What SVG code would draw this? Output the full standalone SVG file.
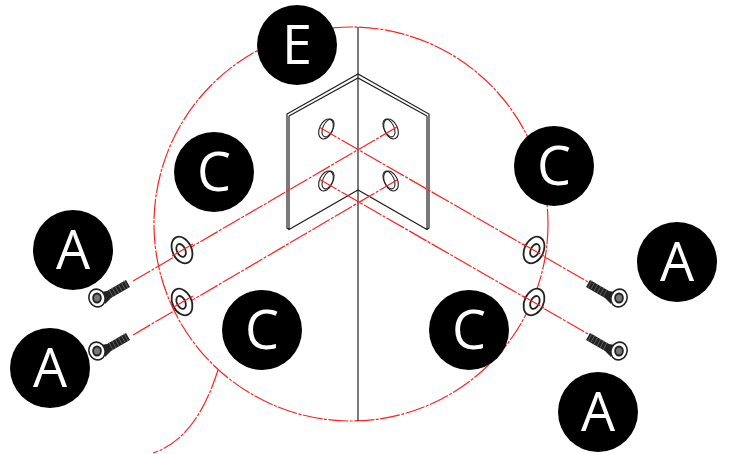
<svg xmlns="http://www.w3.org/2000/svg" width="730" height="454" viewBox="0 0 730 454">
<style>
.bg{fill:#fff}
.red{fill:none;stroke:#f22;stroke-width:1.2;stroke-dasharray:20 1.5 3 1.5}
.k{fill:none;stroke:#222;stroke-width:1.2}
.badge circle{fill:#000}
.badge text{fill:#fff;font-family:"Open Sans",sans-serif;font-size:54px;text-anchor:middle}
</style>
<defs>
<g id="slot"><ellipse rx="6.5" ry="10.5" transform="rotate(25)" fill="#fff" stroke="#222" stroke-width="1.1"/><ellipse cx="2" cy="-1" rx="5" ry="9.5" transform="rotate(25 2 -1)" fill="none" stroke="#222" stroke-width="1.1"/></g>
<g id="washer"><ellipse rx="9.5" ry="14" transform="rotate(-25)" fill="#fff" stroke="#222" stroke-width="1.8"/><ellipse cx="-1" cy="0" rx="4.2" ry="6.8" transform="rotate(-25)" fill="none" stroke="#222" stroke-width="1.8"/></g>
<g id="screw"><path d="M4,-6 L10,-7 L29,-18 L33,-11 L14,0 L8,6Z" fill="#222"/><path d="M12,-8.5L16,-1M15,-10.5L19,-3M18,-12L22,-5M21,-14L25,-7M24,-16L28,-9M27,-17.5L31,-10" stroke="#777" stroke-width=".7"/><ellipse rx="8" ry="9" transform="rotate(-25)" fill="#fff" stroke="#222" stroke-width="1.6"/><ellipse rx="4.8" ry="5.6" fill="#222"/><ellipse rx="3" ry="3.6" fill="#777"/></g>
</defs>
<rect class="bg" width="730" height="454"/>
<g id="connectors">
<circle class="red" cx="351" cy="224" r="197"/>
<path class="red" d="M218,370C209,398 192,440 153,453"/>
<path d="M358,27V421" fill="none" stroke="#222" stroke-width="1.2"/>
</g>
<g id="bracket">
<path class="k" d="M287,114L358,74L429,114V228L427,229.5L358,190L289,229.5L287,228ZM289,116L358,78L427,116M289,116V229.5M427,116V229.5"/>
<use href="#slot" x="326" y="129"/><use href="#slot" transform="translate(391,129) scale(-1,1)"/><use href="#slot" x="326" y="181"/><use href="#slot" transform="translate(391,181) scale(-1,1)"/>
</g>
<g id="axes">
<path class="red" d="M133,281L397,127M133,335L397,180M319,127L590,283M319,179L590,335"/>
</g>
<g id="washers"><use href="#washer" x="182" y="250"/><use href="#washer" x="182" y="302"/><use href="#washer" transform="translate(534,250) scale(-1,1)"/><use href="#washer" transform="translate(534,302) scale(-1,1)"/></g>
<g id="axes-over"><path class="red" d="M172,256L193,244M172,308L193,296M523,244L544,256M523,296L544,308"/></g>
<g id="screws"><use href="#screw" x="97" y="298"/><use href="#screw" x="97" y="351"/><use href="#screw" transform="translate(619,298) scale(-1,1)"/><use href="#screw" transform="translate(619,351) scale(-1,1)"/></g>
<g id="E" class="badge"><circle cx="297" cy="45" r="40"/><text x="297" y="64">E</text></g>
<g id="C1" class="badge"><circle cx="214" cy="172" r="40"/><text x="214" y="191">C</text></g>
<g id="C2" class="badge"><circle cx="554" cy="166" r="40"/><text x="554" y="185">C</text></g>
<g id="C3" class="badge"><circle cx="262" cy="330" r="40"/><text x="262" y="349">C</text></g>
<g id="C4" class="badge"><circle cx="469" cy="330" r="40"/><text x="469" y="349">C</text></g>
<g id="A1" class="badge"><circle cx="73" cy="250" r="40"/><text x="73" y="269">A</text></g>
<g id="A2" class="badge"><circle cx="50" cy="368" r="40"/><text x="50" y="387">A</text></g>
<g id="A3" class="badge"><circle cx="677" cy="262" r="40"/><text x="677" y="281">A</text></g>
<g id="A4" class="badge"><circle cx="598" cy="412" r="40"/><text x="598" y="431">A</text></g>
</svg>
